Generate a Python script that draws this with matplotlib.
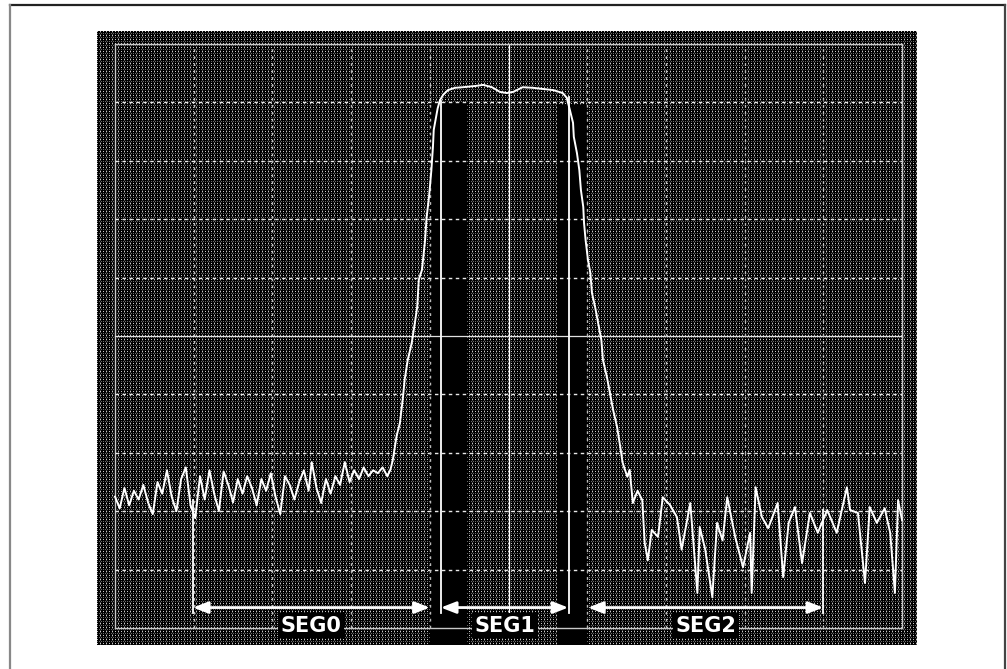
import numpy as np
import matplotlib
matplotlib.use("Agg")
import matplotlib.pyplot as plt
from matplotlib.lines import Line2D

# ---- data (grid units: x 0..100 across 10 divisions, y 0..100 up 10 divisions) ----
trace_x = [0.0, 0.6, 1.2, 1.8, 2.4, 3.0, 3.6, 4.2, 4.8, 5.4, 6.0, 6.6, 7.2, 7.8, 8.4,
           9.0, 9.6, 10.2, 10.8, 11.4, 12.0, 12.6, 13.2, 13.8, 14.4, 15.0, 15.6, 16.2,
           16.8, 17.4, 18.0, 18.6, 19.2, 19.8, 20.4, 21.0, 21.6, 22.2, 22.8, 23.4, 24.0,
           24.6, 25.0, 25.6, 26.2, 26.8, 27.4, 28.0, 28.6, 29.2, 29.8, 30.4, 31.0, 31.6,
           32.2, 32.8, 33.4, 34.0, 34.6,
           35.0, 35.3, 35.8, 36.2, 36.6, 36.8, 37.2, 37.7, 38.1, 38.4, 38.6, 39.0, 39.4,
           39.6, 39.9, 40.2, 40.4, 40.5, 40.8, 41.0, 41.3, 41.7, 42.3, 43.2, 44.2, 45.7,
           46.8, 47.9, 48.9, 49.8, 50.6, 51.8, 53.1, 55.7, 56.9, 57.4, 57.8, 58.2, 58.3,
           58.7, 59.0, 59.2, 59.5, 59.6, 59.8, 60.1, 60.4, 60.6, 61.0, 61.4, 61.8, 62.0,
           62.5, 62.9, 63.3, 63.8, 64.2, 64.5, 65.1,
           65.4, 65.8, 66.4, 67.0, 67.3, 67.7, 68.2, 69.0, 69.6, 70.5, 71.4, 72.0, 73.1,
           74.0, 74.3, 75.0, 75.9, 76.5, 77.2, 77.8, 78.8, 79.8, 80.7, 80.9, 81.4, 82.2,
           83.0, 84.2, 84.9, 85.6, 86.4, 87.3, 88.3, 89.3, 90.5, 91.7, 93.0, 93.4, 94.4,
           95.3, 95.9, 96.8, 97.8, 98.5, 99.1, 99.5, 100.0]
trace_y = [22.5, 20.5, 24.0, 21.0, 23.5, 22.0, 24.5, 21.5, 19.5, 25.0, 23.0, 27.0, 22.5,
           20.0, 25.5, 27.5, 21.0, 18.8, 26.0, 22.0, 27.0, 23.0, 20.0, 26.8, 24.5, 21.5,
           25.5, 23.0, 26.0, 24.0, 21.0, 25.5, 23.5, 26.5, 22.5, 19.5, 26.0, 24.5, 22.0,
           25.0, 27.0, 23.5, 28.4, 24.0, 21.4, 25.5, 23.0, 26.0, 24.5, 28.4, 25.0, 27.0,
           25.5, 27.5, 26.0, 27.0, 26.5, 27.5, 26.0,
           27.1, 28.8, 33.0, 35.1, 39.6, 42.5, 45.9, 48.8, 52.2, 55.0, 59.6, 61.3, 66.4,
           70.4, 73.8, 78.4, 82.4, 85.3, 87.5, 89.0, 90.4, 91.3, 92.1, 92.5, 92.6, 92.8,
           93.0, 92.6, 91.8, 91.6, 91.8, 92.6, 92.5, 92.1, 91.6, 90.8, 88.7, 86.5, 84.1,
           81.3, 78.4, 75.0, 72.1, 69.3, 66.4, 63.0, 60.8, 57.4, 55.0, 52.2, 49.3, 45.9,
           43.0, 40.2, 37.3, 34.4, 31.0, 28.3, 25.9,
           27.1, 21.4, 23.5, 21.9, 14.6, 11.6, 16.8, 15.6, 22.4, 21.1, 19.0, 13.4, 21.4,
           6.0, 17.3, 13.4, 5.3, 18.0, 15.0, 22.4, 15.6, 10.4, 16.3, 6.0, 24.1, 19.0,
           17.1, 21.4, 8.7, 18.0, 20.7, 11.1, 19.7, 16.3, 20.2, 16.3, 24.1, 20.2, 19.7,
           7.7, 20.7, 18.0, 20.5, 16.3, 6.0, 21.9, 18.5]

segment_labels = ["SEG0", "SEG1", "SEG2"]
segment_start = [9.9, 41.4, 60.1]
segment_end = [40.0, 57.6, 90.0]
marker_x = [9.9, 41.4, 57.7, 90.0]
marker_top = [22.0, 90.3, 91.0, 20.2]
dark_bands = [(40.0, 44.7, 90.0), (56.2, 60.0, 89.5)]

# ---- figure ----
W, H = 1007, 669
fig = plt.figure(figsize=(W / 100, H / 100), dpi=100)
fig.patch.set_facecolor("white")

# screen area in pixels
sx0, sx1, sy0, sy1 = 97, 917, 31, 645
sw, sh = sx1 - sx0, sy1 - sy0

# halftone-like texture for the CRT screen
rows = np.arange(sh)[:, None]
cols = np.arange(sw)[None, :]
val = np.zeros((sh, sw))
val = np.where((rows % 4 == 0) & (cols % 3 == 0), 200, val)
val = np.where((rows % 4 == 2) & (cols % 2 == 0), 100, val)
val = np.where((rows % 2 == 1) & (cols % 6 == 3), 70, val)
tex = np.repeat(val[:, :, None], 3, axis=2).astype(np.uint8)
im = fig.figimage(tex, xo=sx0, yo=H - sy1, origin="upper")
im.set_zorder(-5)

# axes covering the screen; grid spans px x 115..902, y 44..628
gx0, gx1, gy0, gy1 = 115, 902, 44, 628
ux = (gx1 - gx0) / 100.0
uy = (gy1 - gy0) / 100.0
ax = fig.add_axes([sx0 / W, (H - sy1) / H, sw / W, sh / H])
ax.set_xlim((sx0 - gx0) / ux, (sx1 - gx0) / ux)
ax.set_ylim((gy1 - sy1) / uy, (gy1 - sy0) / uy)
ax.patch.set_alpha(0)
ax.axis("off")
ybot = (gy1 - sy1) / uy

# dark bands
for x0, x1, top in dark_bands:
    ax.fill_between([x0, x1], ybot, top, color="black", lw=0, zorder=1)

# grid
for v in range(0, 101, 10):
    if v in (0, 100):
        ax.plot([v, v], [0, 100], color="#c8c8c8", lw=1.0, zorder=2)
        ax.plot([0, 100], [v, v], color="#c8c8c8", lw=1.0, zorder=2)
    elif v == 50:
        ax.plot([v, v], [0, 100], color="white", lw=0.9, zorder=2)
        ax.plot([0, 100], [v, v], color="#e0e0e0", lw=0.9, zorder=2)
    else:
        ax.plot([v, v], [0, 100], color="#bbbbbb", lw=1.0, ls=(0, (2, 3)), zorder=2)
        ax.plot([0, 100], [v, v], color="#e8e8e8", lw=1.0, ls=(0, (2.5, 2.5)), zorder=2)

# marker lines
for mx, mt in zip(marker_x, marker_top):
    ax.plot([mx, mx], [2.5, mt], color="white", lw=1.3, zorder=3)

# trace
ax.plot(trace_x, trace_y, color="white", lw=1.4, zorder=4)

# segment arrows and labels
ay = 3.5
for lab, s, e in zip(segment_labels, segment_start, segment_end):
    ax.annotate("", xy=(s, ay), xytext=(e, ay),
                arrowprops=dict(arrowstyle="<|-|>,head_length=0.9,head_width=0.35",
                                color="white", lw=2.0, shrinkA=0, shrinkB=0),
                zorder=5)
    ax.text((s + e) / 2, 0.4, lab, color="white", fontsize=15, fontweight="bold",
            family="DejaVu Sans", ha="center", va="center", zorder=6,
            bbox=dict(boxstyle="square,pad=0.12", fc="black", ec="none"))

# outer frame lines
fig.add_artist(Line2D([10 / W, 1005 / W], [1 - 5 / H, 1 - 5 / H], color="#222222", lw=1.6,
                      transform=fig.transFigure))
fig.add_artist(Line2D([10 / W, 10 / W], [0, 1 - 5 / H], color="#888888", lw=1.6,
                      transform=fig.transFigure))
fig.add_artist(Line2D([1005 / W, 1005 / W], [0, 1 - 5 / H], color="#444444", lw=1.6,
                      transform=fig.transFigure))

fig.savefig("out.png", dpi=100, facecolor="white")
